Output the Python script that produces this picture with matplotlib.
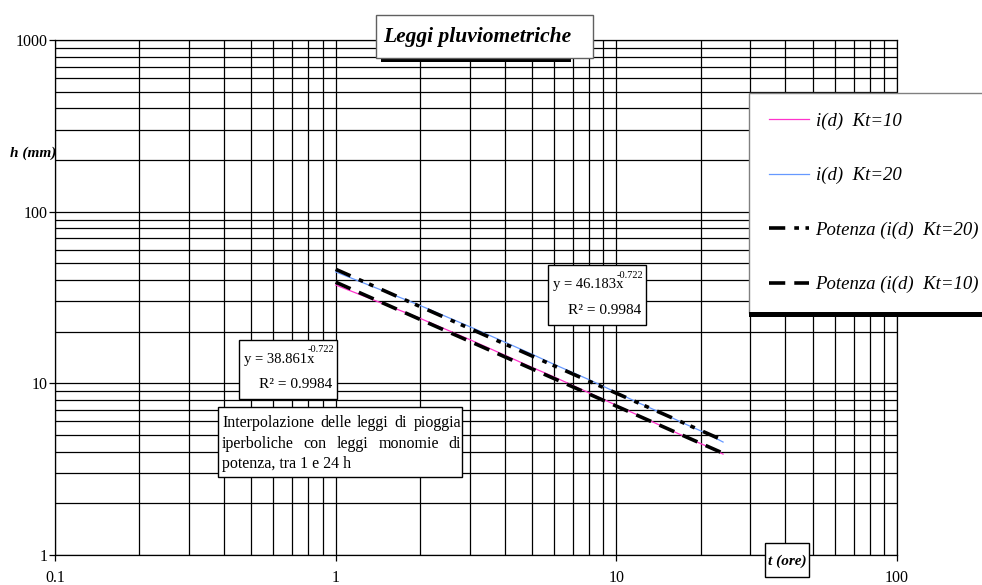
import numpy as np
import matplotlib.pyplot as plt
from matplotlib.patches import Rectangle

plt.rcParams['font.family'] = ['Liberation Serif', 'DejaVu Serif']

# durate (ore) e altezze di pioggia h (mm)
durata = [1, 2, 3, 4, 5, 6, 8, 10, 12, 15, 18, 21, 24]
h_kt10 = [37.4, 23.9, 18.0, 14.6, 12.4, 10.9, 8.8, 7.45, 6.5, 5.5, 4.8, 4.3, 3.87]
h_kt20 = [44.6, 28.4, 21.4, 17.4, 14.8, 12.9, 10.5, 8.85, 7.7, 6.55, 5.7, 5.1, 4.55]

# leggi monomie di potenza (linee di tendenza)
a_kt10 = 38.861
a_kt20 = 46.183
esponente = -0.722
r2 = 0.9984

x_ticks = [0.1, 1, 10, 100]
x_labels = ['0.1', '1', '10', '100']
y_ticks = [1, 10, 100, 1000]
y_labels = ['1', '10', '100', '1000']

W, H = 982, 585


def fx(x):
    return x / W


def fy(y):
    return 1 - y / H


def rett(x0, y0, x1, y1, fc='white', ec='black', lw=1.0, z=10):
    # rettangolo in pixel (origine in alto a sinistra)
    r = Rectangle((fx(x0), fy(y1)), fx(x1) - fx(x0), fy(y0) - fy(y1),
                  transform=fig.transFigure, facecolor=fc, edgecolor=ec,
                  linewidth=lw, zorder=z)
    fig.patches.append(r)
    return r


fig = plt.figure(figsize=(W / 100, H / 100), dpi=100)
ax = fig.add_axes([fx(55), fy(555), fx(897) - fx(55), fy(40) - fy(555)])
ax.set_xscale('log')
ax.set_yscale('log')
ax.set_xlim(0.1, 100)
ax.set_ylim(1, 1000)

ax.grid(True, which='both', color='black', linewidth=0.9)
ax.set_axisbelow(True)
ax.set_xticks(x_ticks, x_labels)
ax.set_yticks(y_ticks, y_labels)
ax.tick_params(which='minor', length=0)
ax.tick_params(which='major', length=4, width=0.9, labelsize=11.5)
ax.tick_params(axis='x', pad=6.5)
ax.tick_params(axis='y', pad=1)
for s in ax.spines.values():
    s.set_linewidth(0.9)

# serie di dati
ax.plot(durata, h_kt10, color='#FF33CC', lw=0.9, label='i(d)  Kt=10')
ax.plot(durata, h_kt20, color='#6699FF', lw=0.9, label='i(d)  Kt=20')

# tendenze di potenza
xt = np.geomspace(durata[0], durata[-1], 60)
ax.plot(xt, a_kt20 * xt ** esponente, color='black', lw=2.6,
        dashes=(4.5, 2.5, 1.3, 1.8, 1.3, 2.5), label='Potenza (i(d)  Kt=20)')
ax.plot(xt, a_kt10 * xt ** esponente, color='black', lw=2.6,
        dashes=(4.5, 2.5), label='Potenza (i(d)  Kt=10)')

# legenda
leg = fig.legend(loc='upper left', bbox_to_anchor=(fx(749), fy(93)),
                 bbox_transform=fig.transFigure, frameon=True, fancybox=False,
                 edgecolor='#808080', framealpha=1, borderpad=1.05, borderaxespad=0,
                 labelspacing=1.98, handlelength=2.15, handletextpad=0.35,
                 prop={'style': 'italic', 'size': 13.5})
leg.get_frame().set_linewidth(1.0)
leg.set_zorder(10)

# ombra sotto la legenda
renderer = fig.canvas.get_renderer()
bb = leg.get_window_extent(renderer)
rett(749, H - bb.y0 - 1, 990, H - bb.y0 + 4, fc='black', ec='none', z=11)

# titolo
rett(381, 58, 571, 62, fc='black', ec='none', z=9)
rett(376, 15, 593, 58, ec='#606060')
fig.text(fx(383), fy(37), 'Leggi pluviometriche', fontsize=15.5, fontweight='bold',
         style='italic', ha='left', va='center', zorder=11)

# etichette assi
fig.text(fx(10), fy(153), 'h (mm)', fontsize=11, fontweight='bold', style='italic',
         ha='left', va='center', zorder=11)
rett(765, 543, 809, 577)
fig.text(fx(787), fy(561), 't (ore)', fontsize=11, fontweight='bold', style='italic',
         ha='center', va='center', zorder=11)


def equazione(x0, y0, x1, y1, a):
    rett(x0, y0, x1, y1)
    fig.text(fx(x0 + 5), fy(y0 + 19), f'y = {a:.3f}x', fontsize=10.5,
             ha='left', va='center', zorder=11)
    fig.text(fx(x0 + 69), fy(y0 + 10), f'{esponente:.3f}', fontsize=7.5,
             ha='left', va='center', zorder=11)
    fig.text(fx(x1 - 5), fy(y0 + 45), f'R\u00b2 = {r2:.4f}', fontsize=11,
             ha='right', va='center', zorder=11)


equazione(548, 265, 646, 325, a_kt20)
equazione(239, 340, 337, 399, a_kt10)

# nota con testo giustificato
rett(218, 407, 462, 477)
righe = ['Interpolazione delle leggi di pioggia',
         'iperboliche con leggi monomie di',
         'potenza, tra 1 e 24 h']
righe_y = [423, 444, 464]
xl, xr = 222, 461
for k, (riga, yy) in enumerate(zip(righe, righe_y)):
    if k == len(righe) - 1:
        fig.text(fx(xl), fy(yy), riga, fontsize=11.5, ha='left', va='center', zorder=11)
        continue
    parole = riga.split()
    testi = [fig.text(0, fy(yy), p, fontsize=11.5, ha='left', va='center', zorder=11)
             for p in parole]
    larg = [t.get_window_extent(renderer).width for t in testi]
    gap = (xr - xl - sum(larg)) / (len(parole) - 1)
    pos = xl
    for t, w in zip(testi, larg):
        t.set_x(fx(pos))
        pos += w + gap

fig.savefig('out.png', dpi=100)
